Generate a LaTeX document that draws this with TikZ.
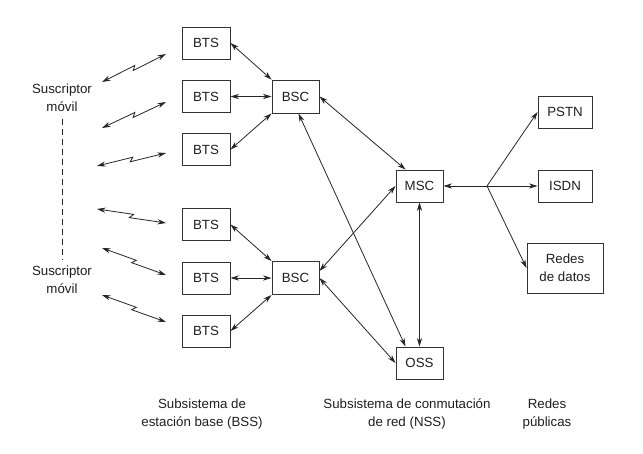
\documentclass[tikz,border=0pt]{standalone}
\usepackage{fontspec}
\setmainfont{Liberation Sans}
\usetikzlibrary{arrows.meta,calc}
\begin{document}
\begin{tikzpicture}[x=1pt,y=-1pt,
  every node/.style={font=\fontsize{13.3}{18}\selectfont, text=black!88},
  box/.style={draw=black!80, line width=0.95pt, inner sep=0pt, align=center, minimum height=32pt},
  btsbox/.style={box, minimum width=48pt},
  midbox/.style={box, minimum width=47pt},
  pubbox/.style={box, minimum width=54pt},
  lbl/.style={align=center, inner sep=2pt},
  tip/.tip={Stealth[length=8.5pt,width=5.2pt]},
  link/.style={draw=black!85, line width=0.8pt, tip-tip},
  oneend/.style={draw=black!85, line width=0.8pt, -tip},
  onestart/.style={draw=black!85, line width=0.8pt, tip-},
  plain/.style={draw=black!85, line width=0.8pt},
  radio/.style={link, to path={
    -- ($(\tikztostart)!0.525!(\tikztotarget)!2pt!90:(\tikztotarget)$)
    -- ($(\tikztostart)!0.475!(\tikztotarget)!2pt!-90:(\tikztotarget)$)
    -- (\tikztotarget)}}
]
\useasboundingbox (0,0) rectangle (643,453);
\fill[white] (0,0) rectangle (643,453);

% BTS
\node[btsbox] (bts1) at (206,43) {BTS};
\node[btsbox] (bts2) at (206,96.5) {BTS};
\node[btsbox] (bts3) at (206,149.5) {BTS};
\node[btsbox] (bts4) at (206,224.5) {BTS};
\node[btsbox] (bts5) at (206,278) {BTS};
\node[btsbox] (bts6) at (206,331) {BTS};

% BSC, MSC, OSS
\node[midbox, minimum height=33pt] (bsc1) at (295.5,96.5) {BSC};
\node[midbox, minimum height=33pt] (bsc2) at (295.5,278) {BSC};
\node[midbox] (msc) at (419.5,186) {MSC};
\node[midbox] (oss) at (419.5,363) {OSS};

% public networks
\node[pubbox] (pstn) at (565,112) {PSTN};
\node[pubbox] (isdn) at (565,186) {ISDN};
\node[box, minimum width=76pt, minimum height=50pt] (redes) at (565,268) {Redes\\de datos};
\coordinate (br) at (487,186);

% subscribers
\node[lbl] (sub1) at (62,97.5) {Suscriptor\\móvil};
\node[lbl] (sub2) at (62,279.5) {Suscriptor\\móvil};
\draw[plain, dash pattern=on 6pt off 4pt, shorten <=5pt, shorten >=3pt] (sub1.south) -- (sub2.north);

% bottom labels
\node[lbl] (bss) at (202,414) {Subsistema de\\estación base (BSS)};
\node[lbl] (nss) at (407,414) {Subsistema de conmutación\\de red (NSS)};
\node[lbl] (pub) at (547,414) {Redes\\públicas};

% radio links
\coordinate (w1a) at (102,82);  \coordinate (w1b) at (166,54);
\coordinate (w2a) at (102,128); \coordinate (w2b) at (166,102);
\coordinate (w3a) at (97,166);  \coordinate (w3b) at (166,153);
\coordinate (w4a) at (97,209);  \coordinate (w4b) at (166,223);
\coordinate (w5a) at (102,248); \coordinate (w5b) at (166,275);
\coordinate (w6a) at (102,295); \coordinate (w6b) at (166,322);
\foreach \i in {1,...,6} {\draw[radio] (w\i a) to (w\i b);}

% BTS - BSC
\draw[link] (bts1.east) -- (bsc1.north west);
\draw[link] (bts2.east) -- (bsc1.west);
\draw[link] (bts3.east) -- (bsc1.south west);
\draw[link] (bts4.east) -- (bsc2.north west);
\draw[link] (bts5.east) -- (bsc2.west);
\draw[link] (bts6.east) -- (bsc2.south west);

% BSC - MSC / OSS
\draw[link] (bsc1.east) -- ([xshift=10pt]msc.north west);
\draw[link] ([xshift=3pt]bsc1.south) -- ([xshift=10pt]oss.north west);
\draw[link] ([yshift=7pt]bsc2.east) -- (msc.west);
\draw[link] (bsc2.east) -- (oss.west);
\draw[link] (msc.south) -- (oss.north);

% MSC - public networks
\draw[onestart] (msc.east) -- (br);
\draw[oneend] (br) -- (pstn.west);
\draw[oneend] (br) -- (isdn.west);
\draw[oneend] (br) -- (redes.west);
\end{tikzpicture}
\end{document}
